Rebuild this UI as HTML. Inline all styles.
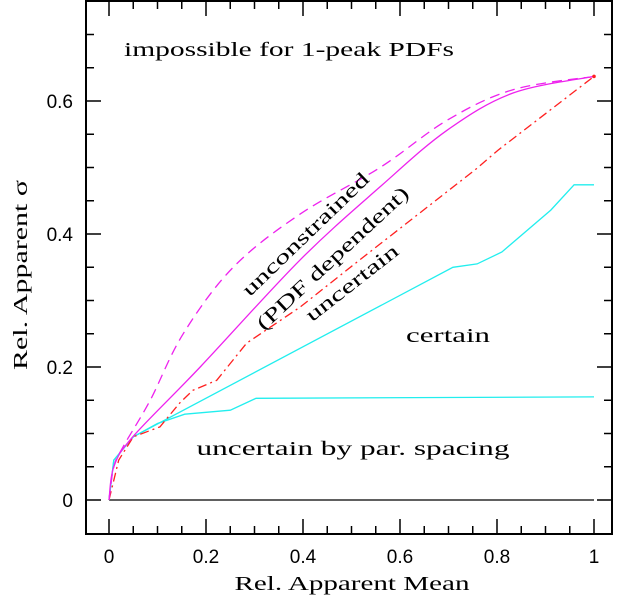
<!DOCTYPE html>
<html><head><meta charset="utf-8"><style>
html,body{margin:0;padding:0;background:#fff}
svg{display:block}
.t{font-family:"Liberation Serif",serif;font-size:20px;fill:#000}
.s{font-family:"Liberation Sans",sans-serif;font-size:19px;fill:#000}
</style></head><body>
<svg id="chart" width="619" height="596" viewBox="0 0 619 596">
<g id="plot"></g>
</svg>
<script>
const xTicks=[0,0.2,0.4,0.6,0.8,1];
const xTickLabels=["0","0.2","0.4","0.6","0.8","1"];
const yTicks=[0,0.2,0.4,0.6];
const yTickLabels=["0","0.2","0.4","0.6"];
const dashedX=[0,0.01,0.029,0.085,0.153,0.256,0.394,0.559,0.697,0.833,1];
const dashedY=[0,0.05,0.08,0.15,0.25,0.35,0.43,0.5,0.571,0.617,0.637];
const solidX=[0,0.01,0.049,0.188,0.394,0.559,0.697,0.833,1];
const solidY=[0,0.05,0.095,0.2,0.361,0.471,0.556,0.612,0.637];
const redX=[0,0.02,0.05,0.105,0.146,0.173,0.222,0.284,0.394,0.517,0.759,0.802,1];
const redY=[0,0.06,0.095,0.11,0.146,0.165,0.18,0.236,0.29,0.361,0.499,0.526,0.637];
const certX=[0,0.01,0.05,0.709,0.759,0.81,0.911,0.959,1];
const certY=[0,0.06,0.095,0.35,0.355,0.373,0.436,0.474,0.474];
const parX=[0,0.01,0.05,0.1,0.156,0.25,0.303,1];
const parY=[0,0.06,0.095,0.115,0.129,0.135,0.153,0.155];

const X0=86,X1=612,Y0=1,Y1=534;
const sx=v=>109+v*485;
const sy=v=>500-v*665;
const NS="http://www.w3.org/2000/svg";
const g=document.getElementById('plot');
function mk(tag,attrs){const e=document.createElementNS(NS,tag);for(const k in attrs)e.setAttribute(k,attrs[k]);g.appendChild(e);return e;}

const fr=mk('rect',{x:X0,y:Y0,width:X1-X0,height:Y1-Y0,fill:'none',stroke:'#000','stroke-width':2});



for(let i=0;i<=20;i++){const v=i*0.05;const x=sx(v);const major=i%4===0;const L=major?15:8;
 const a=mk('line',{x1:x,y1:Y1,x2:x,y2:Y1-L,stroke:'#000','stroke-width':1.5});
 
 
 const b=mk('line',{x1:x,y1:Y0,x2:x,y2:Y0+L,stroke:'#000','stroke-width':1.5});
 
 }
for(let i=-1;i<=15;i++){const v=i*0.05;const y=sy(v);if(y<Y0+2||y>Y1-2)continue;const major=i%4===0;const L=major?15:8;
 const a=mk('line',{x1:X0,y1:y,x2:X0+L,y2:y,stroke:'#000','stroke-width':1.5});
 
 
 const b=mk('line',{x1:X1,y1:y,x2:X1-L,y2:y,stroke:'#000','stroke-width':1.5});
 
 }
xTicks.forEach((v,i)=>{const t=mk('text',{x:sx(v),y:563,'text-anchor':'middle',class:'s'});t.textContent=xTickLabels[i];
 
 });
yTicks.forEach((v,i)=>{const t=mk('text',{x:73,y:sy(v)+7,'text-anchor':'end',class:'s'});t.textContent=yTickLabels[i];
 
 });

const z=mk('line',{x1:sx(0),y1:sy(0),x2:sx(1),y2:sy(0),stroke:'#000','stroke-width':1.3});



function pathFor(xs,ys,smooth){const P=xs.map((x,i)=>[sx(x),sy(ys[i])]);
 if(!smooth)return P.map((p,i)=>(i?'L':'M')+p[0].toFixed(1)+','+p[1].toFixed(1)).join('');
 let d='M'+P[0][0].toFixed(1)+','+P[0][1].toFixed(1);
 for(let i=0;i<P.length-1;i++){const p0=P[Math.max(0,i-1)],p1=P[i],p2=P[i+1],p3=P[Math.min(P.length-1,i+2)];
  const c1=[p1[0]+(p2[0]-p0[0])/6,p1[1]+(p2[1]-p0[1])/6],c2=[p2[0]-(p3[0]-p1[0])/6,p2[1]-(p3[1]-p1[1])/6];
  d+='C'+c1.map(v=>v.toFixed(1)).join(',')+' '+c2.map(v=>v.toFixed(1)).join(',')+' '+p2.map(v=>v.toFixed(1)).join(',');}
 return d;}
function series(xs,ys,color,dash,name,smooth){
 const p=mk('path',{d:pathFor(xs,ys,smooth),fill:'none',stroke:color,'stroke-width':1.3});if(dash)p.setAttribute('stroke-dasharray',dash);
 
 }
series(parX,parY,'#22eeee',null,'par-spacing-curve',false);
series(certX,certY,'#22eeee',null,'certain-curve',false);
series(redX,redY,'#ff2020','9,4,2,4','uncertain-curve',false);
series(solidX,solidY,'#ee22ee',null,'pdf-dependent-curve',true);
series(dashedX,dashedY,'#ee22ee','10,6','unconstrained-curve',true);
const dot=mk('circle',{cx:sx(1),cy:sy(0.637),r:1.8,fill:'#ff2020'});



function label(txt,x,y,rot,len,name,cls){const t=mk('text',{x:x,y:y,class:cls||'t','text-anchor':'middle'});
 if(len){t.setAttribute('textLength',len);t.setAttribute('lengthAdjust','spacingAndGlyphs');}
 if(rot)t.setAttribute('transform','rotate('+rot+' '+x+' '+y+')');t.textContent=txt;
 
 }
label('impossible for 1-peak PDFs',289,56,0,330,'impossible-label');
label('unconstrained',310,239,-44,168,'unconstrained-label');
label('(PDF dependent)',337,263,-43,200,'pdf-dependent-label');
label('uncertain',356,288,-38,112,'uncertain-label');
label('certain',448,342,0,84,'certain-label');
label('uncertain by par. spacing',353,455,0,313,'par-spacing-label');
label('Rel. Apparent Mean',352,590,0,235,'x-axis-title');
label('Rel. Apparent \u03c3',27,275,-90,190,'y-axis-title');
</script>
</body></html>
